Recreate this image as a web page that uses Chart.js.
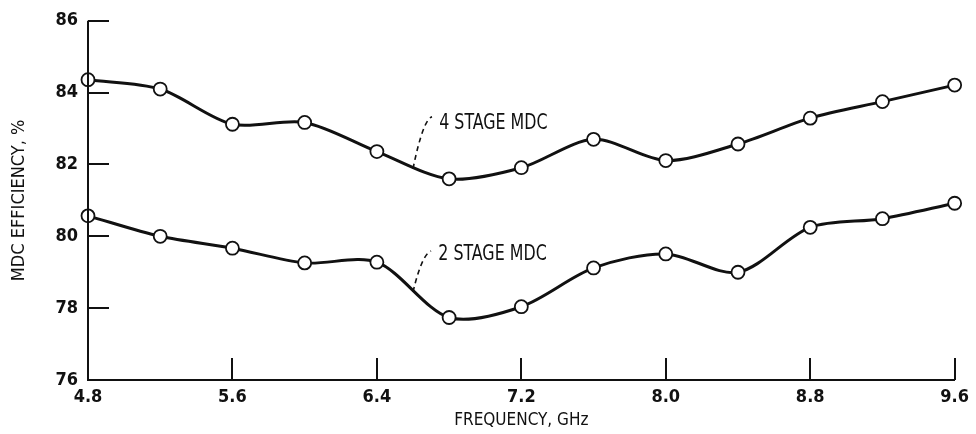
<!DOCTYPE html>
<html>
<head>
<meta charset="utf-8">
<script src="https://cdn.jsdelivr.net/npm/chart.js@4.4.1/dist/chart.umd.min.js"></script>
<style>
  html, body { margin: 0; padding: 0; background: #fff; }
  #wrap { width: 976px; height: 434px; }
</style>
</head>
<body>
<div id="wrap"><canvas id="chart" width="976" height="434"></canvas></div>
<script>
// values
const freqGHz = [4.8, 5.2, 5.6, 6.0, 6.4, 6.8, 7.2, 7.6, 8.0, 8.4, 8.8, 9.2, 9.6];
const stage4Eff = [84.36, 84.10, 83.12, 83.17, 82.36, 81.60, 81.91, 82.70, 82.11, 82.57, 83.29, 83.75, 84.21];
const stage2Eff = [80.57, 80.00, 79.67, 79.26, 79.28, 77.74, 78.04, 79.12, 79.51, 79.00, 80.25, 80.49, 80.92];
const xTicks = [4.8, 5.6, 6.4, 7.2, 8.0, 8.8, 9.6];
const yTicks = [76, 78, 80, 82, 84, 86];
const seriesNames = ['4 STAGE MDC', '2 STAGE MDC'];

const FONT = '"Liberation Sans Narrow", "DejaVu Sans Condensed", "Liberation Sans", sans-serif';
const INK = '#111';

// ticks point inward, left axis drawn over the markers like the original
const innerTicks = {
  id: 'innerTicks',
  beforeDatasetsDraw(chart) {
    const { ctx, scales: { x, y } } = chart;
    ctx.save();
    ctx.strokeStyle = INK;
    ctx.lineWidth = 2;
    ctx.beginPath();
    yTicks.slice(1).forEach(v => {
      const py = Math.round(y.getPixelForValue(v));
      ctx.moveTo(x.left, py);
      ctx.lineTo(x.left + 21, py);
    });
    xTicks.slice(1).forEach(v => {
      const px = Math.round(x.getPixelForValue(v));
      ctx.moveTo(px, y.bottom);
      ctx.lineTo(px, y.bottom - 22);
    });
    ctx.stroke();
    ctx.restore();
  },
  afterDatasetsDraw(chart) {
    const { ctx, scales: { x, y } } = chart;
    ctx.save();
    ctx.strokeStyle = INK;
    ctx.lineWidth = 2;
    ctx.beginPath();
    ctx.moveTo(x.left, y.getPixelForValue(yTicks[yTicks.length - 1]));
    ctx.lineTo(x.left, y.bottom);
    ctx.stroke();
    ctx.restore();
  }
};

// curve labels with dashed leaders
const curveLabels = {
  id: 'curveLabels',
  afterDatasetsDraw(chart) {
    const { ctx, scales: { x, y } } = chart;
    const notes = [
      { text: seriesNames[0], tx: 6.745, ty: 83.14, top: [6.672, 83.19], bot: [6.60, 81.88] },
      { text: seriesNames[1], tx: 6.740, ty: 79.50, top: [6.667, 79.45], bot: [6.60, 78.45] }
    ];
    ctx.save();
    ctx.fillStyle = INK;
    ctx.strokeStyle = INK;
    notes.forEach(n => {
      // the original lettering is narrower than any installed face
      ctx.save();
      ctx.font = '21px ' + FONT;
      ctx.textBaseline = 'middle';
      ctx.translate(x.getPixelForValue(n.tx), y.getPixelForValue(n.ty));
      ctx.scale(0.84, 1);
      ctx.fillText(n.text, 0, 0);
      ctx.restore();
      const x0 = x.getPixelForValue(n.bot[0]), y0 = y.getPixelForValue(n.bot[1]);
      const x1 = x.getPixelForValue(n.top[0]), y1 = y.getPixelForValue(n.top[1]);
      ctx.lineWidth = 1.6;
      ctx.setLineDash([5, 4]);
      ctx.beginPath();
      ctx.moveTo(x0, y0);
      ctx.quadraticCurveTo(x1 - 3, y1 - 2, x1 + 6, y1 - 5);
      ctx.stroke();
    });
    ctx.restore();
  }
};

const makeSet = (label, data) => ({
  label,
  data: freqGHz.map((f, i) => ({ x: f, y: data[i] })),
  borderColor: INK,
  borderWidth: 3,
  tension: 0.3,
  pointRadius: 6.5,
  pointBorderWidth: 1.8,
  pointBackgroundColor: '#fff',
  pointBorderColor: INK,
  clip: false
});

new Chart(document.getElementById('chart').getContext('2d'), {
  type: 'line',
  data: {
    datasets: [makeSet(seriesNames[0], stage4Eff), makeSet(seriesNames[1], stage2Eff)]
  },
  options: {
    responsive: false,
    animation: false,
    layout: { padding: { left: 0, right: 19, top: 14, bottom: 0 } },
    plugins: { legend: { display: false }, tooltip: { enabled: false } },
    scales: {
      x: {
        type: 'linear',
        min: 4.8,
        max: 9.6,
        afterBuildTicks: s => { s.ticks = xTicks.map(v => ({ value: v })); },
        afterFit: s => { s.height = 54; },
        grid: { display: false, drawTicks: false },
        border: { display: true, color: INK, width: 2 },
        ticks: {
          color: INK,
          padding: 7,
          font: { family: FONT, size: 18, weight: 'bold' },
          callback: v => v.toFixed(1)
        },
        title: {
          display: true,
          text: 'FREQUENCY, GHz',
          color: INK,
          font: { family: FONT, size: 17 },
          padding: { top: 0, bottom: 3 }
        }
      },
      y: {
        min: 76,
        max: 86,
        afterBuildTicks: s => { s.ticks = yTicks.map(v => ({ value: v })); },
        afterFit: s => { s.width = 88; },
        grid: { display: false, drawTicks: false },
        border: { display: false },
        ticks: {
          color: INK,
          padding: 10,
          font: { family: FONT, size: 18, weight: 'bold' }
        },
        title: {
          display: true,
          text: 'MDC EFFICIENCY, %',
          color: INK,
          font: { family: FONT, size: 18 },
          padding: { top: 9, bottom: 0 }
        }
      }
    }
  },
  plugins: [innerTicks, curveLabels]
});
</script>
</body>
</html>
